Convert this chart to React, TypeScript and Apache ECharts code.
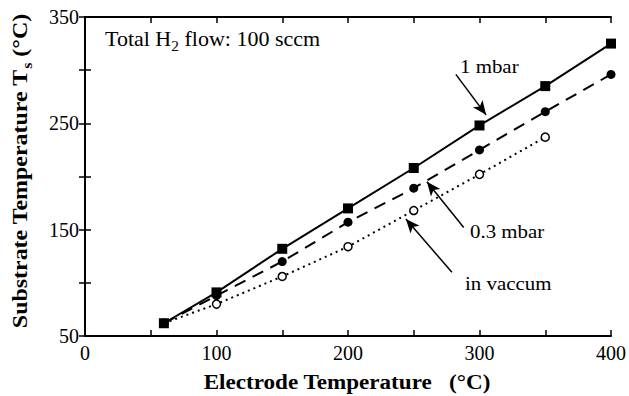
import React, { useEffect, useRef } from "react";
import * as echarts from "echarts";

// Electrode temperature (°C)
const electrodeT = [60, 100, 150, 200, 250, 300, 350, 400];
// Substrate temperature (°C) for each pressure condition
const ts1mbar = [62, 91, 132, 170, 208, 248, 285, 325];
const ts03mbar = [62, 88, 120, 157, 189, 225, 261, 296];
const tsVacuum = [62, 80, 106, 134, 168, 202, 237];

const SERIF = "'Liberation Serif', 'Times New Roman', serif";
const STRETCH = 1.1; // typeset slightly wide, like the printed figure

const pairs = (xs: number[], ys: number[]) => ys.map((y, i) => [xs[i], y]);

// measure a string with the same font the chart uses
const measurer = document.createElement("canvas").getContext("2d")!;
const textWidth = (s: string, font: string) => {
  measurer.font = font;
  return measurer.measureText(s).width;
};

// a line of text with a subscript piece, laid out along the local x axis
function subscriptGroup(
  before: string,
  sub: string,
  after: string,
  mainFont: string,
  subFont: string,
  subDrop: number,
  centered: boolean
) {
  const w1 = textWidth(before, mainFont);
  const w2 = textWidth(sub, subFont);
  const w3 = textWidth(after, mainFont);
  const start = centered ? -(w1 + w2 + w3) / 2 : 0;
  return [
    { type: "text", x: start, y: 0, style: { text: before, font: mainFont, fill: "#000", verticalAlign: "middle" } },
    { type: "text", x: start + w1, y: subDrop, style: { text: sub, font: subFont, fill: "#000", verticalAlign: "middle" } },
    { type: "text", x: start + w1 + w2, y: 0, style: { text: after, font: mainFont, fill: "#000", verticalAlign: "middle" } },
  ];
}

export default function App() {
  const ref = useRef<HTMLDivElement>(null);

  useEffect(() => {
    if (!ref.current) return;
    const chart = echarts.init(ref.current, null, { renderer: "svg" });

    const axisLine = { show: true, lineStyle: { color: "#000", width: 2 } };
    const tickStyle = { color: "#000", width: 1.5 };
    const labelStyle = { color: "#000", fontFamily: SERIF, fontSize: 20 };

    const arrow = (from: number[], to: number[]) => [
      { coord: from, symbol: "none" },
      { coord: to, symbol: "arrow", symbolSize: [9, 14] },
    ];

    const annotFont = `19px ${SERIF}`;
    const annot = (text: string, x: number, y: number) => ({
      type: "text",
      x,
      y,
      scaleX: STRETCH,
      style: { text, font: annotFont, fill: "#000", verticalAlign: "middle" },
    });

    chart.setOption({
      animation: false,
      backgroundColor: "#fff",
      grid: { left: 85, right: 17, top: 17, bottom: 60 },
      xAxis: [
        {
          type: "value",
          min: 0,
          max: 400,
          interval: 100,
          position: "bottom",
          axisLine,
          axisTick: { show: true, inside: true, length: 6, lineStyle: tickStyle },
          minorTick: { show: true, splitNumber: 2, length: 6, lineStyle: tickStyle },
          splitLine: { show: false },
          axisLabel: { ...labelStyle, margin: 7 },
        },
        {
          type: "value",
          min: 0,
          max: 400,
          interval: 100,
          position: "top",
          axisLine,
          axisTick: { show: true, inside: true, length: 6, lineStyle: tickStyle },
          minorTick: { show: true, splitNumber: 2, length: 6, lineStyle: tickStyle },
          splitLine: { show: false },
          axisLabel: { show: false },
        },
      ],
      yAxis: [
        {
          type: "value",
          min: 50,
          max: 350,
          interval: 100,
          position: "left",
          axisLine,
          axisTick: { show: true, inside: true, length: 6, lineStyle: tickStyle },
          minorTick: { show: true, splitNumber: 2, length: 6, lineStyle: tickStyle },
          splitLine: { show: false },
          axisLabel: { ...labelStyle, margin: 6 },
        },
        {
          type: "value",
          min: 50,
          max: 350,
          interval: 100,
          position: "right",
          axisLine,
          axisTick: { show: true, inside: true, length: 6, lineStyle: tickStyle },
          minorTick: { show: true, splitNumber: 2, length: 6, lineStyle: tickStyle },
          splitLine: { show: false },
          axisLabel: { show: false },
        },
      ],
      series: [
        {
          name: "in vaccum",
          type: "line",
          data: pairs(electrodeT, tsVacuum),
          symbol: "circle",
          symbolSize: 8,
          itemStyle: { color: "#fff", borderColor: "#000", borderWidth: 1.5 },
          lineStyle: { color: "#000", width: 2, type: [2, 4] },
          z: 2,
        },
        {
          name: "0.3 mbar",
          type: "line",
          data: pairs(electrodeT, ts03mbar),
          symbol: "circle",
          symbolSize: 9,
          itemStyle: { color: "#000" },
          lineStyle: { color: "#000", width: 2, type: [12, 8] },
          z: 3,
        },
        {
          name: "1 mbar",
          type: "line",
          data: pairs(electrodeT, ts1mbar),
          symbol: "rect",
          symbolSize: 10,
          itemStyle: { color: "#000" },
          lineStyle: { color: "#000", width: 2 },
          z: 4,
          markLine: {
            silent: true,
            animation: false,
            label: { show: false },
            lineStyle: { color: "#000", width: 1.5, type: "solid" },
            data: [
              arrow([282, 296], [305, 258]),
              arrow([288, 152], [260, 195]),
              arrow([279, 110], [244, 160]),
            ],
          },
        },
      ],
      graphic: [
        {
          type: "group",
          x: 105,
          y: 39,
          scaleX: STRETCH,
          children: subscriptGroup("Total H", "2", " flow: 100 sccm", `20px ${SERIF}`, `14px ${SERIF}`, 7, false),
        },
        annot("1 mbar", 460, 66),
        annot("0.3 mbar", 470, 231),
        annot("in vaccum", 465, 283),
        {
          type: "text",
          x: 347,
          y: 382,
          scaleX: STRETCH,
          style: {
            text: "Electrode Temperature   (°C)",
            font: `bold 21px ${SERIF}`,
            fill: "#000",
            align: "center",
            verticalAlign: "middle",
          },
        },
        {
          type: "group",
          x: 20,
          y: 171,
          rotation: Math.PI / 2,
          scaleX: 1.14,
          children: subscriptGroup(
            "Substrate Temperature T",
            "s",
            " (°C)",
            `bold 21px ${SERIF}`,
            `bold 14px ${SERIF}`,
            7,
            true
          ),
        },
      ],
    });

    return () => chart.dispose();
  }, []);

  return (
    <div
      ref={ref}
      style={{ position: "fixed", left: 0, top: 0, width: 629, height: 396, background: "#fff" }}
    />
  );
}
